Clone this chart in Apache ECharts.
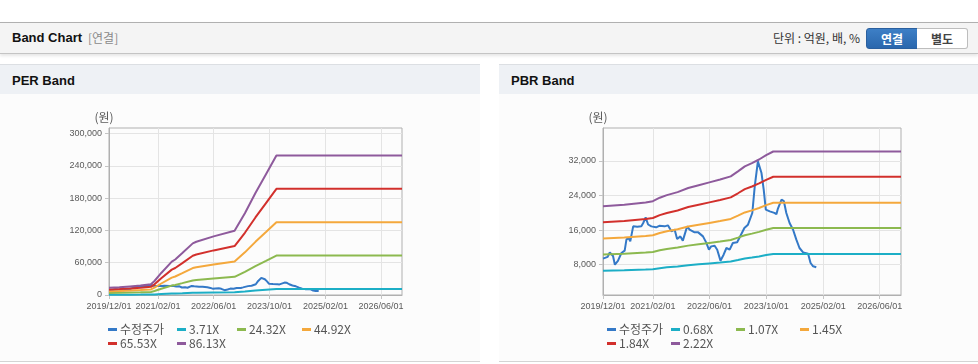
<!DOCTYPE html>
<html><head><meta charset="utf-8">
<script src="https://cdn.jsdelivr.net/npm/echarts@6/dist/echarts.min.js"></script>
<style>
html,body{margin:0;padding:0;width:978px;height:364px;overflow:hidden;background:#fff;font-family:'Liberation Sans','Noto Sans CJK KR',sans-serif;}
.abs{position:absolute;}
#topbar{left:0;top:22px;width:978px;height:30px;background:#f4f4f4;border-top:1px solid #b0b0b0;border-bottom:1px solid #c4c4c4;box-shadow:0 2px 3px rgba(0,0,0,0.10);}
#ttl{left:12px;top:0;line-height:30px;font-size:13px;font-weight:bold;color:#111;}
#ttl2{left:88px;top:0;line-height:30px;font-size:12px;color:#8a8a8a;font-family:'Noto Sans CJK KR',sans-serif;}
#unit{right:118px;top:0;line-height:30px;font-size:12px;color:#333;font-family:'Noto Sans CJK KR',sans-serif;}
.btn{top:5px;height:19px;width:50px;line-height:19px;text-align:center;font-size:12px;font-weight:bold;font-family:'Noto Sans CJK KR',sans-serif;}
#b1{left:866px;background:linear-gradient(#3d7fc6,#2a67ad);border:1px solid #2a5f9e;border-radius:3px 0 0 3px;color:#fff;}
#b2{left:917px;background:#fff;border:1px solid #bdbdbd;border-left:none;border-radius:0 3px 3px 0;color:#444;}
.ph{top:64px;height:29px;background:#eef1f5;border-top:1px solid #dcdfe3;}
.ph span{position:absolute;left:12px;top:0;line-height:31px;font-size:13px;font-weight:bold;color:#111;}
.pb{top:94px;height:267px;background:#fcfcfc;border-bottom:1px solid #d4d4d4;}
#chart{left:0;top:0;width:978px;height:364px;}
</style></head>
<body>
<div id="topbar" class="abs">
  <div id="ttl" class="abs">Band Chart</div>
  <div id="ttl2" class="abs">[연결]</div>
  <div id="unit" class="abs">단위 : 억원, 배, %</div>
  <div id="b1" class="abs btn">연결</div>
  <div id="b2" class="abs btn">별도</div>
</div>
<div class="abs ph" style="left:0;width:480px;"><span>PER Band</span></div>
<div class="abs ph" style="left:499px;width:479px;"><span>PBR Band</span></div>
<div class="abs pb" style="left:0;width:480px;"></div>
<div class="abs pb" style="left:499px;width:479px;"></div>
<div id="chart" class="abs"></div>
<script>
// ---------- data ----------
const xTickLabels = ['2019/12/01','2021/02/01','2022/06/01','2023/10/01','2025/02/01','2026/06/01'];
const xStart = '2019/12/01';
const xEnd = '2026/12/01';

const perYTicks = [0, 60000, 120000, 180000, 240000, 300000];
const pbrYTicks = [8000, 16000, 24000, 32000];

const perSeriesNames = ['수정주가','3.71X','24.32X','44.92X','65.53X','86.13X'];
const pbrSeriesNames = ['수정주가','0.68X','1.07X','1.45X','1.84X','2.22X'];

const priceDates = ['2019/12/01','2019/12/16','2020/01/10','2020/01/28','2020/02/25','2020/03/12','2020/04/07','2020/05/07','2020/06/04','2020/06/19',
  '2020/07/07','2020/07/22','2020/08/16','2020/09/20','2020/10/25','2020/11/10','2020/12/01','2020/12/22','2021/01/19','2021/03/01',
  '2021/03/28','2021/05/13','2021/06/10','2021/07/10','2021/08/07','2021/08/28','2021/09/25','2021/10/16','2021/11/22','2021/12/13',
  '2022/01/25','2022/02/25','2022/04/07','2022/05/04','2022/05/28','2022/06/16','2022/07/16','2022/08/07','2022/09/04','2022/10/01',
  '2022/10/25','2022/11/22','2022/12/19','2023/01/25','2023/02/13','2023/03/28','2023/04/28','2023/05/10','2023/06/04','2023/06/25',
  '2023/07/22','2023/08/07','2023/08/22','2023/09/10','2023/09/28','2023/11/01','2023/12/10','2023/12/28','2024/01/10','2024/02/10',
  '2024/03/01','2024/03/22','2024/04/19','2024/05/19','2024/06/16','2024/07/13','2024/08/13','2024/09/25','2024/10/16','2024/11/07',
  '2024/12/04'];
const priceValues = [9400,9400,9800,10850,10000,8000,8900,10700,11250,13800,
  14200,13400,16870,16800,16900,17650,18950,17300,16870,16640,
  17000,16870,17100,15710,16100,13950,14550,13560,16870,16100,
  15480,15480,14550,13160,11470,12240,12400,11470,8930,10310,
  11860,11470,13020,13180,14180,16490,17260,16870,19960,26130,
  31910,31500,29220,25360,20730,20340,20000,19700,21000,23050,
  22700,19970,17650,16100,13790,11860,10850,10550,8390,7620,
  7390];

const perBandDates = ['2019/12/01','2020/03/01','2020/06/01','2020/09/01','2020/12/01','2021/01/01','2021/03/01','2021/06/01','2021/07/01','2021/09/01',
  '2021/12/01','2022/01/01','2022/06/01','2022/12/01','2023/03/01','2023/06/01','2023/09/01','2023/12/01','2026/12/01'];
const per371  = [581,625,689,754,861,1120,1766,2670,2843,3359,4135,4264,4695,5147,6547,8162,9669,11177,11177];
const per2432 = [3812,4095,4518,4942,5648,7342,11578,17509,18638,22027,27110,27958,30782,33747,42925,53515,63399,73283,73283];
const per4492 = [7040,7562,8344,9126,10430,13559,21382,32333,34419,40677,50064,51629,56844,62319,79268,98824,117077,135329,135329];
const per6553 = [10271,11032,12173,13314,15216,19781,31193,47170,50213,59342,73037,75319,82927,90916,115642,144172,170800,197428,197428];
const per8613 = [13500,14500,16000,17500,20000,26000,41000,62000,66000,78000,96000,99000,109000,119500,152000,189500,224500,259500,259500];

const pbrBandDates = ['2019/12/01','2020/06/01','2020/12/01','2021/02/01','2021/04/01','2021/06/01','2021/09/01','2021/12/01','2022/03/01','2022/06/01',
  '2022/09/01','2022/12/01','2023/02/01','2023/04/01','2023/06/01','2023/08/01','2023/10/01','2023/12/01','2026/12/01'];
const pbr068 = [6585,6693,6861,6953,7198,7382,7596,7887,8086,8285,8485,8714,9066,9419,9648,9909,10215,10475,10475];
const pbr107 = [10363,10532,10797,10941,11327,11616,11954,12412,12725,13038,13351,13713,14267,14822,15183,15593,16075,16484,16484];
const pbr145 = [14044,14272,14632,14828,15350,15742,16199,16820,17244,17669,18094,18584,19335,20086,20576,21131,21784,22339,22339];
const pbr184 = [17819,18109,18565,18814,19477,19974,20554,21342,21880,22419,22958,23579,24532,25486,26107,26812,27640,28345,28345];
const pbr222 = [21500,21850,22400,22700,23500,24100,24800,25750,26400,27050,27700,28450,29600,30750,31500,32350,33350,34200,34200];

// ---------- styles ----------
const COLORS = ['#3479c7','#1caec6','#8cb94f','#f4a83c','#d2302c','#8e5a9c'];
const AXIS_FONT = "'Liberation Sans', sans-serif";
const AXIS_SIZE = 9;
const LEGEND_FONT = "'Noto Sans CJK KR', 'Liberation Sans', sans-serif";

function ts(s){ const p = s.split('/').map(Number); return Date.UTC(p[0], p[1]-1, p[2]); }
function pairs(dates, vals){ return dates.map((d,i)=>[ts(d), vals[i]]); }
function comma(v){ return String(v).replace(/\B(?=(\d{3})+(?!\d))/g, ','); }
const tickMap = {}; xTickLabels.forEach(s => { tickMap[ts(s)] = s; });

function xAxisCfg(gi){
  return {
    type:'value', gridIndex:gi, min:ts(xStart), max:ts(xEnd),
    axisLine:{show:true, lineStyle:{color:'#b0b0b0', width:1}},
    axisTick:{show:true, length:4, lineStyle:{color:'#c4c4c4'}, customValues:xTickLabels.map(ts)},
    axisLabel:{customValues:xTickLabels.map(ts), formatter:v => tickMap[v] || '', color:'#5a5a5a', fontSize:AXIS_SIZE, fontFamily:AXIS_FONT, margin:7, hideOverlap:false},
    splitLine:{show:true, lineStyle:{color:'#e4e4e4', width:1}}
  };
}
function yAxisCfg(gi, min, max, ticks){
  return {
    type:'value', gridIndex:gi, min:min, max:max,
    name:'(원)', nameLocation:'end', nameGap:5,
    nameTextStyle:{color:'#5a5a5a', fontSize:12, fontFamily:"'Noto Sans CJK KR', sans-serif", padding:[0,10,0,0]},
    axisLine:{show:true, lineStyle:{color:'#b0b0b0', width:1}},
    axisTick:{show:true, length:4, lineStyle:{color:'#c4c4c4'}, customValues:ticks},
    axisLabel:{customValues:ticks, formatter:v => comma(v), color:'#5a5a5a', fontSize:AXIS_SIZE, fontFamily:AXIS_FONT, margin:7},
    splitLine:{show:true, lineStyle:{color:'#e4e4e4', width:1}}
  };
}
function lineSeries(name, gi, data, color){
  return {name:name, type:'line', xAxisIndex:gi, yAxisIndex:gi, data:data, showSymbol:false, symbol:'none',
    lineStyle:{width:2, color:color}, itemStyle:{color:color}, silent:true, animation:false, z:2};
}

const series = [];
const perBandVals = [per371, per2432, per4492, per6553, per8613];
const pbrBandVals = [pbr068, pbr107, pbr145, pbr184, pbr222];
series.push(lineSeries(perSeriesNames[0], 0, pairs(priceDates, priceValues), COLORS[0]));
perBandVals.forEach((v,k) => series.push(lineSeries(perSeriesNames[k+1], 0, pairs(perBandDates, v), COLORS[k+1])));
series.push(lineSeries(pbrSeriesNames[0], 1, pairs(priceDates, priceValues), COLORS[0]));
pbrBandVals.forEach((v,k) => series.push(lineSeries(pbrSeriesNames[k+1], 1, pairs(pbrBandDates, v), COLORS[k+1])));

// legend layout: one legend per item
const legendPos = [[108,323],[177,323],[237,323],[302,323],[108,337],[177,337]];
const legendPos2 = [[607,323],[671,323],[736,323],[800,323],[607,337],[671,337]];
const legends = [];
function addLegend(name, pos){
  legends.push({data:[name], left:pos[0], top:pos[1], orient:'horizontal', padding:0, itemGap:0,
    icon:'rect', itemWidth:9, itemHeight:3, selectedMode:false,
    textStyle:{color:'#555', fontSize:12, lineHeight:13, fontFamily:LEGEND_FONT, padding:[0,0,0,-2]}});
}
perSeriesNames.forEach((n,k)=>addLegend(n, legendPos[k]));
pbrSeriesNames.forEach((n,k)=>addLegend(n, legendPos2[k]));

const chart = echarts.init(document.getElementById('chart'), null, {renderer:'canvas'});
chart.setOption({
  backgroundColor:'transparent',
  animation:false,
  grid:[
    {left:109, top:128, width:293, height:167, show:true, borderColor:'#b0b0b0', borderWidth:1, backgroundColor:'transparent', containLabel:false, outerBoundsMode:'none'},
    {left:603, top:128, width:298, height:167, show:true, borderColor:'#b0b0b0', borderWidth:1, backgroundColor:'transparent', containLabel:false, outerBoundsMode:'none'}
  ],
  xAxis:[xAxisCfg(0), xAxisCfg(1)],
  yAxis:[yAxisCfg(0, 0, 310500, perYTicks), yAxisCfg(1, 980, 39640, pbrYTicks)],
  legend:legends,
  tooltip:{show:false},
  series:series
});
</script>
</body></html>
